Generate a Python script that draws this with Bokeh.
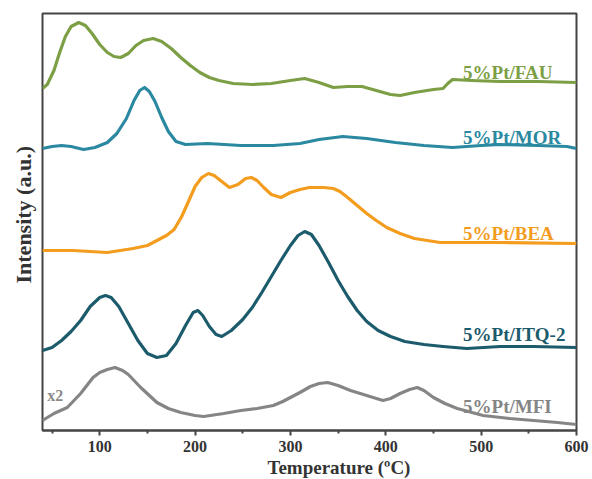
from bokeh.plotting import figure
from bokeh.models import Range1d, Label, FixedTicker, Title
from bokeh.embed import file_html
from bokeh.resources import INLINE

# ---- data (temperature in degC, intensity in a.u.) ----
fau_t = [40,45,52,58,64,70,78,85,92,100,108,115,122,130,138,146,156,165,175,185,195,205,215,225,240,260,280,300,315,330,345,360,375,390,405,415,430,450,460,465,470,490,520,560,600]
fau_i = [342,346,360,378,394,404,408,405,397,386,378,374,373,377,385,390,392,389,382,373,365,358,353,350,347,346,347,350,352,348,343,344,344,340,336,335,338,341,342,347,351,350,349,349,348]

mor_t = [40,50,60,70,83,95,108,118,128,136,142,147,152,158,165,172,180,190,213,248,282,310,330,355,380,410,440,470,500,520,560,590,600]
mor_i = [282,284,285,284,281,283,288,297,312,330,340,343,339,329,313,299,289,286,287,285,285,287,291,294,292,288,285,283,285,286,285,284,282]

bea_t = [40,72,108,135,150,160,170,178,186,194,200,207,214,220,228,236,245,253,259,265,272,280,290,300,310,320,335,345,352,360,370,380,390,401,415,430,457,520,600]
bea_i = [180,180,178,182,185,190,195,201,214,231,244,253,257,255,249,243,246,252,253,250,243,236,233,238,241,243,243,242,239,233,225,217,210,203,197,192,188,188,187]

itq_t = [40,50,60,70,80,90,100,106,112,120,130,140,150,160,170,180,190,198,203,208,215,222,228,238,250,260,270,280,290,300,308,315,322,330,340,350,360,370,380,392,405,420,440,460,485,520,555,600]
itq_i = [80,83,90,99,110,124,133,135,133,124,107,90,77,73,75,87,105,118,120,115,104,96,94,100,111,123,138,154,170,185,195,199,196,185,168,150,134,120,109,100,94,89,86,84,82,84,84,83]

mfi_t = [40,52,66,80,93,100,108,116,124,130,143,160,172,185,200,209,230,248,265,282,292,300,310,321,330,339,350,363,380,397,405,415,425,433,440,450,462,475,502,530,555,580,600]
mfi_i = [10,17,23,37,53,58,61,63,60,56,43,28,22,18,15,14,17,20,22,25,29,33,38,44,47,48,45,40,35,30,32,37,41,43,40,33,27,22,15,12,10,8,6]

names = ["5%Pt/FAU", "5%Pt/MOR", "5%Pt/BEA", "5%Pt/ITQ-2", "5%Pt/MFI"]
label_y = [358, 293, 197, 96, 24]
x_ticks = [100, 200, 300, 400, 500, 600]
x_minor = [50, 150, 250, 350, 450, 550]

colors = ["#7c9f45", "#2a89a1", "#f39c1e", "#1c5b6b", "#858585"]
FONT = "Liberation Serif"

p = figure(width=592, height=479, output_backend="svg", toolbar_location=None,
           x_range=Range1d(40, 600), y_range=Range1d(0, 417),
           min_border_left=42, min_border_right=16, min_border_top=13,
           min_border_bottom=49)
p.grid.visible = False
p.yaxis.visible = False
p.outline_line_color = "#444444"
p.outline_line_width = 2
p.background_fill_color = "white"
p.border_fill_color = "white"

ax = p.xaxis[0]
ax.ticker = FixedTicker(ticks=x_ticks, minor_ticks=x_minor)
ax.axis_line_color = "#444444"
ax.axis_line_width = 2
ax.major_tick_line_color = "#444444"
ax.major_tick_line_width = 2
ax.major_tick_out = 5
ax.major_tick_in = 0
ax.minor_tick_line_color = "#444444"
ax.minor_tick_line_width = 2
ax.minor_tick_out = 3
ax.minor_tick_in = 0
ax.major_label_text_font = FONT
ax.major_label_text_font_style = "bold"
ax.major_label_text_font_size = "16px"
ax.major_label_text_color = "#333333"
ax.major_label_standoff = 5

series = [(fau_t, fau_i), (mor_t, mor_i), (bea_t, bea_i), (itq_t, itq_i), (mfi_t, mfi_i)]
for (t, i), c in zip(series, colors):
    p.line(t, i, line_color=c, line_width=3.2, line_join="round")

for name, y, c in zip(names, label_y, colors):
    p.add_layout(Label(x=481, y=y, text=name, text_color=c, text_font=FONT,
                       text_font_style="bold", text_font_size="19px",
                       text_align="left", text_baseline="alphabetic"))

p.add_layout(Label(x=45, y=35, text="x2", text_color="#8a8a8a", text_font=FONT,
                   text_font_style="bold", text_font_size="16px",
                   text_align="left", text_baseline="alphabetic"))

xt = Title(text="Temperature (\u00baC)", align="left", offset=225, standoff=0,
           text_color="#333333", text_font=FONT, text_font_style="bold",
           text_font_size="19px")
p.add_layout(xt, "below")

yt = Title(text="Intensity (a.u.)", align="left", offset=147, standoff=13,
           text_color="#333333", text_font=FONT, text_font_style="bold",
           text_font_size="22px")
p.add_layout(yt, "left")

open("out.html", "w").write(file_html(p, INLINE))
